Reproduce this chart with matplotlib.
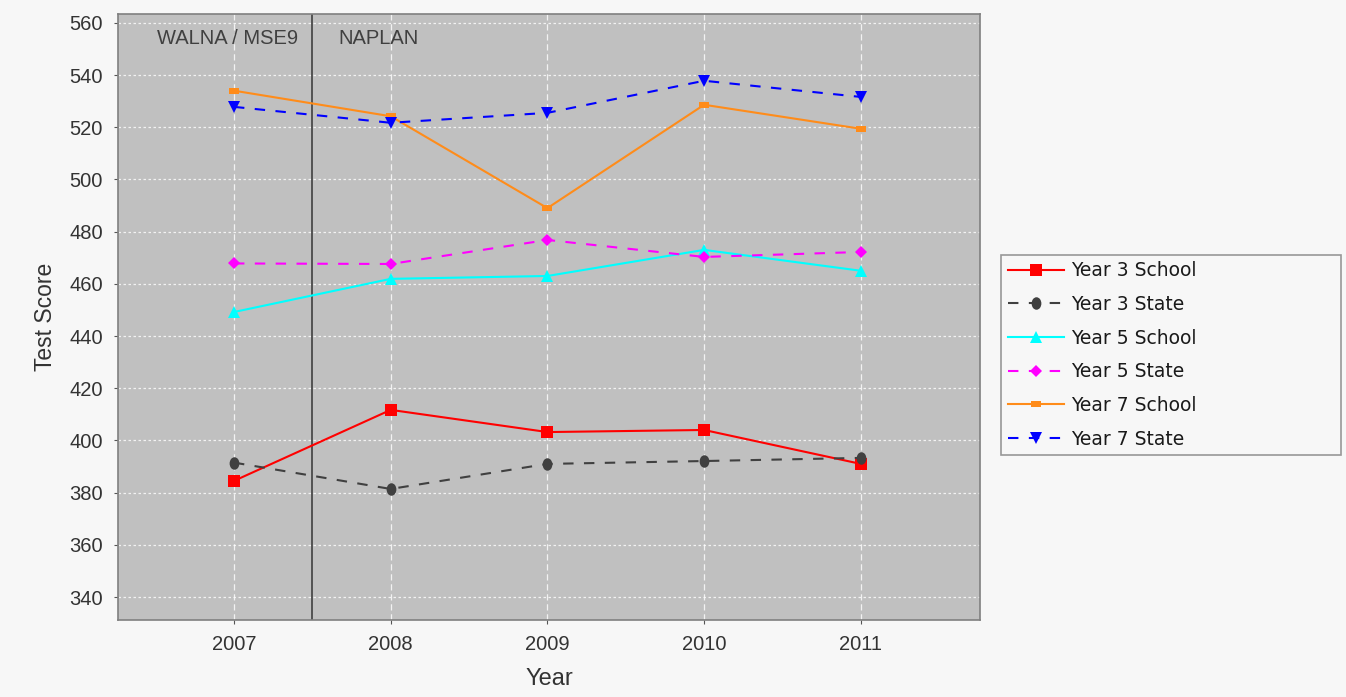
import matplotlib
matplotlib.use('Agg')
import matplotlib.pyplot as plt
from matplotlib.lines import Line2D
from matplotlib.path import Path
from matplotlib.transforms import Affine2D

plt.rcParams['font.family'] = ['Liberation Sans', 'DejaVu Sans']

years = [2007, 2008, 2009, 2010, 2011]
y3_school = [384.5, 411.7, 403.2, 404.0, 391.0]
y3_state = [391.5, 381.4, 391.0, 392.1, 393.3]
y5_school = [449.2, 461.9, 463.0, 473.0, 465.0]
y5_state = [467.8, 467.6, 476.8, 470.3, 472.2]
y7_school = [534.0, 524.2, 489.0, 528.6, 519.4]
y7_state = [527.8, 521.7, 525.5, 537.8, 531.6]

# slightly tall ellipse and flat rectangle, like the java renderer
ellipse = Path.unit_circle().transformed(Affine2D().scale(0.78, 1.0))
flat_rect = Path([(-1, -0.7), (1, -0.7), (1, 0.7), (-1, 0.7), (-1, -0.7)],
                 closed=True)

series = [
    ("Year 3 School", y3_school, '#ff0000', '-', 's', 9),
    ("Year 3 State", y3_state, '#404040', '--', ellipse, 9),
    ("Year 5 School", y5_school, '#00ffff', '-', '^', 8),
    ("Year 5 State", y5_state, '#ff00ff', '--', 'D', 6.5),
    ("Year 7 School", y7_school, '#ff8c1a', '-', flat_rect, 7),
    ("Year 7 State", y7_state, '#0000ff', '--', 'v', 8),
]

fig = plt.figure(figsize=(13.46, 6.97), dpi=100, facecolor='#f7f7f7')
ax = fig.add_axes([0.0877, 0.1105, 0.6403, 0.8695])
ax.set_facecolor('#c0c0c0')

handles = []
for name, vals, col, ls, mk, ms in series:
    kw = dict(color=col, linestyle=ls, linewidth=1.5, marker=mk,
              markersize=ms, markeredgewidth=0)
    if ls == '--':
        kw['dashes'] = (5, 5)
    ax.plot(years, vals, zorder=3, **kw)
    handles.append(Line2D([0], [0], label=name, **kw))

ax.axvline(2007.5, color='#404040', linewidth=1.2, zorder=2)
ax.text(2006.96, 557.5, "WALNA / MSE9", ha='center', va='top',
        fontsize=14.5, color='#404040')
ax.text(2007.92, 557.5, "NAPLAN", ha='center', va='top',
        fontsize=14.5, color='#404040')

ax.set_xlim(2006.26, 2011.76)
ax.set_ylim(331.2, 563.4)
ax.set_xticks(years)
ax.set_yticks(range(340, 561, 20))
ax.tick_params(axis='both', labelsize=14.5, colors='#555555', labelcolor='#333333',
               length=3)
ax.tick_params(axis='x', pad=8)
ax.tick_params(axis='y', pad=8)
ax.grid(axis='y', color='white', linestyle=(0, (2, 2)), linewidth=0.9, alpha=0.8)
ax.grid(axis='x', color='white', linestyle=(0, (5, 3)), linewidth=0.9, alpha=0.8)
ax.set_axisbelow(True)
for s in ax.spines.values():
    s.set_color('#808080')
    s.set_linewidth(1.2)

ax.set_xlabel("Year", fontsize=17, color='#333333', labelpad=10)
ax.set_ylabel("Test Score", fontsize=16.5, color='#333333', labelpad=9)

leg = fig.legend(handles=handles, loc='center left',
                 bbox_to_anchor=(0.744, 0.4907, 0.2526, 0.0), mode='expand',
                 prop={'family': 'DejaVu Sans', 'size': 13.5},
                 frameon=True, fancybox=False, borderpad=0.35,
                 labelspacing=0.78, handlelength=3.0, handletextpad=0.35,
                 borderaxespad=0)
leg.get_frame().set_edgecolor('#808080')
leg.get_frame().set_facecolor('#f7f7f7')
leg.get_frame().set_linewidth(1.2)
for t in leg.get_texts():
    t.set_color('#1a1a1a')

fig.savefig('out.png', dpi=100, facecolor=fig.get_facecolor())
